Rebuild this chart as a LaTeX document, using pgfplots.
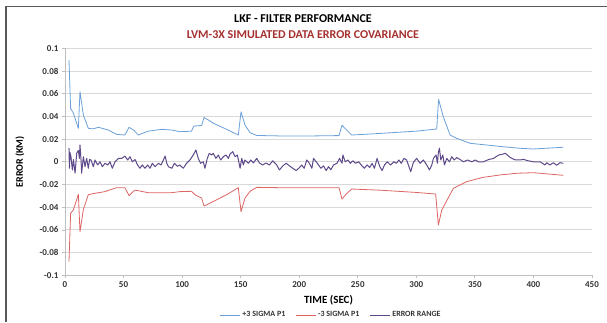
\documentclass[border=0pt]{standalone}
\usepackage{fontspec}
\setmainfont{Carlito}
\usepackage{pgfplots}
\pgfplotsset{compat=1.18}
\definecolor{cblue}{HTML}{6A9FD8}
\definecolor{cred}{HTML}{DE6464}
\definecolor{cpurp}{HTML}{5E4A8A}
\definecolor{ctitle}{HTML}{A5302E}
\definecolor{cgrid}{HTML}{D9D9D9}
\definecolor{caxis}{HTML}{BFBFBF}
\definecolor{ctext}{HTML}{333333}
\begin{document}
\begin{tikzpicture}[x=1pt,y=1pt]
\useasboundingbox (0,0) rectangle (607,322);
\draw[color=black!65, line width=1.6pt] (6,0) -- (6,315.3) -- (607,315.3);
\node[font=\bfseries\fontsize{12}{14}\selectfont, text=black] at (303,303) {LKF - FILTER PERFORMANCE};
\node[font=\bfseries\fontsize{12}{14}\selectfont, text=ctitle] at (303,287) {LVM-3X SIMULATED DATA ERROR COVARIANCE};
\begin{axis}[
  at={(65pt,46.7pt)}, anchor=south west,
  scale only axis, width=527pt, height=227pt,
  xmin=0, xmax=450, ymin=-0.1, ymax=0.1,
  axis lines*=left,
  axis line style={caxis, line width=0.8pt, -},
  xtick={0,50,100,150,200,250,300,350,400,450},
  xticklabels={0,50,100,150,200,250,300,350,400,450},
  ytick={-0.1,-0.08,-0.06,-0.04,-0.02,0,0.02,0.04,0.06,0.08,0.1},
  yticklabels={-0.1,-0.08,-0.06,-0.04,-0.02,0,0.02,0.04,0.06,0.08,0.1},
  scaled y ticks=false,
  tick align=outside,
  major tick length=3pt,
  tick style={caxis, line width=0.8pt},
  ymajorgrids,
  grid style={cgrid, line width=1pt},
  tick label style={font=\bfseries\fontsize{9}{10}\selectfont, text=ctext},
  xlabel={TIME (SEC)},
  ylabel={ERROR (KM)},
  xlabel style={font=\bfseries\fontsize{11}{13}\selectfont, text=black, at={(axis description cs:0.5,-0.109)}, anchor=center},
  ylabel style={font=\bfseries\fontsize{10}{12}\selectfont, text=black, at={(axis description cs:-0.0854,0.5)}, anchor=center},
  legend style={draw=none, fill=none, at={(0.505,-0.175)}, anchor=center,
    font=\bfseries\fontsize{8}{9}\selectfont, text=ctext,
    /tikz/every even column/.append style={column sep=8pt}},
  legend columns=3,
  legend image code/.code={\draw[#1] (0pt,0pt) -- (20pt,0pt);},
  every axis plot/.append style={line width=0.8pt},
]
\addplot[cblue, line join=round] coordinates {
(3.4,0.0897) (4.8,0.047) (7.1,0.043) (11.4,0.0295) (12.8,0.0618) (15.7,0.041) (19.9,0.0295) (24,0.029) (28.5,0.0304) (37,0.028) (44,0.0242) (51.2,0.0236) (54.7,0.0304) (58.5,0.028) (62.6,0.0236) (71,0.027) (82.6,0.0286) (91,0.028) (98,0.0265) (108,0.027) (110,0.0315) (116.7,0.032) (118.7,0.039) (122.5,0.0368) (126.6,0.034) (138,0.0286) (148,0.0236) (150.3,0.044) (153.7,0.0324) (158,0.0257) (163.7,0.0232) (183,0.0228) (212,0.0228) (234,0.0231) (236.5,0.0322) (240.5,0.028) (244.8,0.0236) (269,0.025) (300,0.027) (317.4,0.0289) (319,0.055) (323,0.0398) (328.8,0.0236) (334.4,0.0207) (345.9,0.0163) (360,0.0148) (374,0.0133) (388.6,0.0119) (400,0.0113) (425.5,0.0128)
};
\addlegendentry{+3 SIGMA P1}
\addplot[cred, line join=round] coordinates {
(3.4,-0.088) (4.8,-0.0454) (7.1,-0.0425) (11.4,-0.0287) (12.8,-0.0616) (15.7,-0.042) (19.9,-0.029) (24,-0.028) (34,-0.0263) (44,-0.0228) (51.2,-0.0228) (54.7,-0.0298) (59.6,-0.0249) (71,-0.0272) (91,-0.0272) (98,-0.0263) (108,-0.026) (111,-0.029) (116.7,-0.032) (118.7,-0.039) (126.6,-0.035) (138,-0.029) (148,-0.0228) (150.3,-0.044) (153.7,-0.032) (158,-0.026) (163.7,-0.0225) (183,-0.0228) (212,-0.0228) (234,-0.0228) (236.5,-0.0328) (240.5,-0.028) (244.8,-0.024) (269,-0.025) (300,-0.027) (316.5,-0.0284) (318.8,-0.0557) (321.7,-0.0425) (331.6,-0.0234) (343,-0.0175) (357,-0.0137) (371.5,-0.0116) (385.7,-0.0101) (400,-0.0096) (425.5,-0.0119)
};
\addlegendentry{-3 SIGMA P1}
\addplot[cpurp, line join=round, line width=1pt] coordinates {
(3.4,0.012) (3.8,-0.0057) (4.3,0.008) (5.1,0.0045) (6.3,-0.0072) (7.2,0.002) (8.6,-0.010) (10,0.0075) (11.4,0.010) (12.3,0.003) (12.8,0.0148) (13.7,0.0016) (14.2,-0.010) (15.7,0.0045) (17.1,-0.0043) (18.5,0.003) (19.9,-0.0057) (21,0.002) (22.2,0.0016) (24.2,-0.0043) (25.6,0.0016) (27.9,-0.0028) (29.9,0) (31.9,-0.0043) (34.2,-0.0013) (36.5,-0.0028) (38.4,0) (40.4,-0.0057) (42.7,0) (45.6,0.003) (48.4,0.003) (51.2,0.005) (53.5,0.0016) (55.5,0.0045) (57.5,0) (59.8,0.002) (62,-0.0028) (64,-0.0057) (66,-0.0028) (68.3,-0.0057) (70.6,-0.0028) (72.6,-0.0057) (74.6,-0.0013) (76.9,-0.0043) (79.8,-0.0013) (82,-0.0028) (84,0.0016) (85.5,0.0051) (86.9,-0.0013) (88.3,-0.0043) (91.2,-0.0057) (93.5,-0.0013) (96,-0.004) (98,-0.0028) (101,-0.0057) (103.8,-0.0013) (106.7,0.0016) (109.5,0.006) (111.8,0.0104) (113.8,0.003) (115.8,-0.0013) (118.1,0) (119.5,-0.0057) (121.5,0.003) (123.2,0.0075) (125.2,0.006) (126.6,0.0075) (128.9,0.003) (130.9,0.006) (132.9,0.0016) (135.2,0.0045) (137.5,0.006) (139.5,0.003) (140.9,0.0068) (143.2,0.009) (145.2,0.0045) (147.2,0.006) (149.5,-0.0057) (150.9,0.003) (152.3,-0.0028) (153.7,0.0016) (156.6,-0.0013) (158.6,0.0016) (160.9,-0.001) (163.7,0.003) (166,-0.001) (168.8,-0.0028) (171.7,-0.001) (174.5,-0.0028) (177.4,0.0009) (180.8,-0.0028) (183.1,-0.0072) (186,-0.0036) (188.8,-0.0013) (191.7,-0.0036) (194.5,-0.0057) (197.4,-0.0077) (199.6,-0.0057) (202.2,-0.0028) (204.2,-0.0057) (206.5,0.0016) (208.7,-0.0013) (210.8,-0.0057) (212.2,0.003) (214.5,0) (216.5,-0.0028) (218.5,-0.0057) (220.8,-0.0036) (223,-0.0077) (225,-0.0043) (227,-0.007) (229.3,-0.0028) (232.2,-0.0013) (234.5,0.003) (236.5,-0.0013) (237.3,0.006) (239.3,0) (241.6,0.0016) (243.6,-0.0013) (245.9,0.0009) (247.9,-0.0013) (250.8,0) (253.6,-0.0036) (255.6,-0.0057) (257.9,-0.0028) (260.2,-0.005) (262.2,-0.0013) (264.2,-0.0057) (266.5,0.003) (268.8,-0.0043) (270.8,-0.0077) (272.8,-0.0028) (275.1,0) (278,-0.0028) (280.8,0) (283.1,-0.0013) (285.1,0.0016) (287.1,-0.0013) (289.4,0.003) (291.7,0.0016) (293.2,-0.0028) (295.2,-0.0087) (297.5,-0.0005) (300.3,0.003) (303.2,-0.0013) (306,0.0016) (308.9,-0.0028) (311.2,-0.0072) (313.2,-0.0028) (314.6,0.003) (316.9,0.006) (318,-0.0013) (318.8,0.008) (319.7,0.012) (320.9,0.0016) (322.6,0.006) (324,-0.0028) (326,0.003) (328.3,0) (330.3,0.0045) (332.3,0.0016) (334.6,0.0037) (337.4,0.002) (340.3,0) (343.7,0.0016) (347.4,0) (350.3,0.0016) (353.1,0) (357.4,0) (361.7,0.002) (366,0.003) (370.3,0.006) (373,0.0065) (376,0.0075) (380.3,0.0037) (384.6,0.0016) (388.9,0.0016) (391.4,0.0022) (395,0.001) (400,0) (405.7,0) (409.9,-0.0028) (411.3,-0.0008) (414.1,-0.0028) (417,-0.0008) (419.8,-0.003) (422.7,-0.0008) (425.5,-0.0013)
};
\addlegendentry{ERROR RANGE}
\end{axis}
\end{tikzpicture}
\end{document}
